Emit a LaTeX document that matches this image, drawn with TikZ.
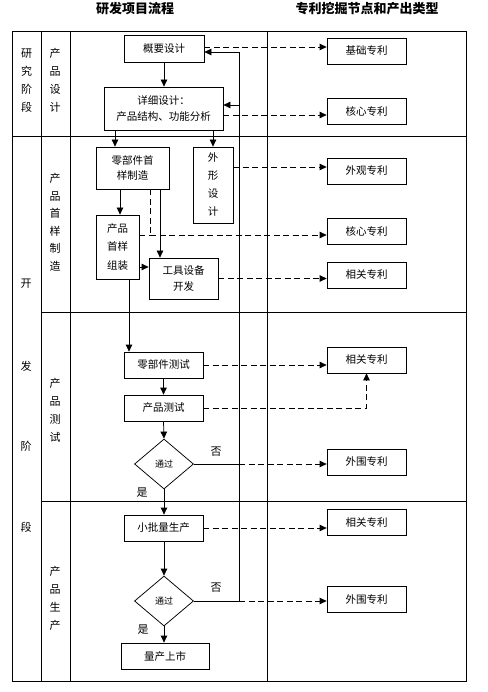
\documentclass[tikz,border=0pt]{standalone}
\usepackage{fontspec}
\setmainfont{Noto Sans CJK SC}
\usetikzlibrary{shapes.geometric,arrows.meta}
\tikzset{
  lw/.style={line width=0.75pt},
  box/.style={draw, lw, inner sep=0pt, align=center, font=\fontsize{10.5}{15.5}\selectfont},
  mbox/.style={box, minimum width=79pt, minimum height=26pt},
  pat/.style={box, minimum width=79pt, minimum height=26pt},
  dia/.style={draw, lw, diamond, inner sep=0pt, minimum width=59pt, minimum height=50pt, font=\fontsize{9}{10}\selectfont},
  arr/.style={lw, -{Triangle[length=7pt,width=6.5pt]}},
  dline/.style={lw, dash pattern=on 6pt off 3.5pt},
  darr/.style={dline, -{Triangle[length=7pt,width=6.5pt]}},
  lab/.style={inner sep=0pt, align=center, font=\fontsize{11}{18}\selectfont},
  ttl/.style={inner sep=0pt, font=\fontsize{13}{15}\selectfont\bfseries},
}
\begin{document}
\begin{tikzpicture}[x=1pt,y=-1pt]
\useasboundingbox (0,0) rectangle (487,692);
% titles
\node[ttl] (t1title) at (135,9) {研发项目流程};
\node[ttl] (t2title) at (367,9) {专利挖掘节点和产出类型};
% frame
\draw[lw] (12,31) rectangle (466,681);
\draw[lw] (41,31) -- (41,681);
\draw[lw] (70,31) -- (70,681);
\draw[lw] (267,31) -- (267,681);
\draw[lw] (12,136) -- (466,136);
\draw[lw] (41,312) -- (466,312);
\draw[lw] (41,501) -- (466,501);
% stage labels
\node[lab] (s1) at (26.5,80.5) {研\\究\\阶\\段};
\node[lab] (s2) at (55,80.5) {产\\品\\设\\计};
\node[lab] (k1) at (26,284) {开};
\node[lab] (k2) at (26,366) {发};
\node[lab] (k3) at (26,446) {阶};
\node[lab] (k4) at (26,527) {段};
\node[lab, font=\fontsize{11}{17.5}\selectfont] (s3) at (55,222.5) {产\\品\\首\\样\\制\\造};
\node[lab] (s4) at (55,410.5) {产\\品\\测\\试};
\node[lab] (s5) at (55,598.5) {产\\品\\生\\产};
% process nodes
\node[box, minimum width=80pt, minimum height=27pt] (gy) at (164,48.5) {概要设计};
\node[box, minimum width=119pt, minimum height=43pt] (xx) at (163.5,108.5) {详细设计：\\产品结构、功能分析};
\node[box, minimum width=73pt, minimum height=42pt] (lb) at (132.5,168) {零部件首\\样制造};
\node[box, minimum width=40pt, minimum height=76pt, font=\fontsize{10.5}{18}\selectfont] (wx) at (213,185) {外\\形\\设\\计};
\node[box, minimum width=43pt, minimum height=64pt, font=\fontsize{10.5}{18.5}\selectfont] (zz) at (117.5,247) {产品\\首样\\组装};
\node[box, minimum width=69pt, minimum height=41pt] (gj) at (183.5,278.5) {工具设备\\开发};
\node[mbox] (lc) at (163.5,365) {零部件测试};
\node[mbox] (cc) at (163.5,408) {产品测试};
\node[dia] (d1) at (164,464) {通过};
\node[mbox] (xp) at (163.5,528) {小批量生产};
\node[dia] (d2) at (164,601) {通过};
\node[box, minimum width=88pt, minimum height=26pt] (lm) at (165,656) {量产上市};
% patent nodes
\node[pat] (p1) at (366.5,51) {基础专利};
\node[pat] (p2) at (366.5,111.5) {核心专利};
\node[pat] (p3) at (366.5,171) {外观专利};
\node[pat] (p4) at (366.5,231) {核心专利};
\node[pat] (p5) at (366.5,275) {相关专利};
\node[pat] (p6) at (366.5,360) {相关专利};
\node[pat] (p7) at (366.5,462) {外围专利};
\node[pat] (p8) at (366.5,522) {相关专利};
\node[pat] (p9) at (366.5,599) {外围专利};
% yes/no labels
\node[lab] (y1) at (142,493) {是};
\node[lab] (n1) at (216,452) {否};
\node[lab] (n2) at (216,588) {否};
\node[lab] (y2) at (143,630) {是};
% coordinates
\coordinate (j1) at (239,464);
\coordinate (j2) at (239,601);
\coordinate (tA) at (239,52);
\coordinate (tB) at (239,105);
\coordinate (m4) at (150,235);
% solid flow
\draw[arr] (gy.south) -- (gy.south |- xx.north);
\draw[arr] ([xshift=-17.5pt]lb.north |- xx.south) -- ([xshift=-17.5pt]lb.north);
\draw[arr] (wx.north |- xx.south) -- (wx.north);
\draw[arr] ([xshift=-12.5pt]lb.south) -- ([xshift=-12.5pt]lb.south |- zz.north);
\draw[arr] ([xshift=27.5pt]lb.south) -- ([xshift=27.5pt]lb.south |- gj.north);
\draw[arr] ([yshift=-20pt]zz.east) -- ([yshift=-20pt]zz.east -| gj.west);
\draw[arr] ([xshift=11.5pt]zz.south) -- ([xshift=11.5pt]zz.south |- lc.north);
\draw[arr] (lc.south -| cc.north) -- (cc.north);
\draw[arr] (cc.south) -- (d1.north);
\draw[arr] (d1.south) -- (xp.north -| d1.south);
\draw[arr] (xp.south -| d2.north) -- (d2.north);
\draw[arr] (d2.south) -- (d2.south |- lm.north);
% feedback
\draw[lw] (d1.east) -- (j1);
\draw[arr] (d2.east) -- (j2) -- (tA) -- (tA -| gy.east);
\draw[arr] (tB) -- (tB -| xx.east);
% dashed to patents
\draw[darr] ([yshift=1.5pt]gy.east) -- ([yshift=1.5pt]gy.east -| p1.west);
\draw[darr] ([yshift=-6.5pt]xx.east) -- ([yshift=-6.5pt]xx.east -| p2.west);
\draw[darr] ([yshift=18pt]wx.east) -- ([yshift=18pt]wx.east -| p3.west);
\draw[dline] ([xshift=17.5pt]lb.south) -- (m4);
\draw[dline] (zz.east |- m4) -- (m4);
\draw[darr] (m4) -- (m4 -| p4.west);
\draw[darr] (gj.east) -- (gj.east -| p5.west);
\draw[darr] (lc.east) -- (lc.east -| p6.west);
\draw[darr] (cc.east) -| (p6.south);
\draw[darr] (j1) -- (j1 -| p7.west);
\draw[darr] (xp.east) -- (xp.east -| p8.west);
\draw[darr] (j2) -- (j2 -| p9.west);
\end{tikzpicture}
\end{document}
